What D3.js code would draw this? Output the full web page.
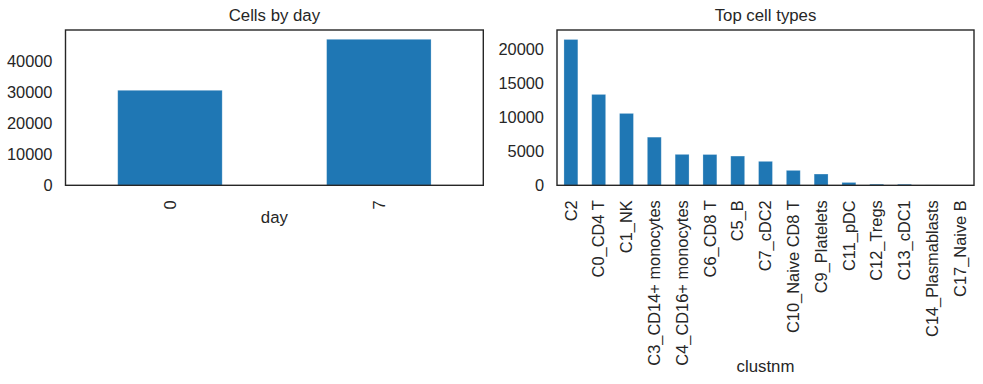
<!DOCTYPE html>
<html>
<head>
<meta charset="utf-8">
<script src="https://cdn.jsdelivr.net/npm/d3@7"></script>
<style>
  html, body { margin: 0; padding: 0; background: #fff; }
  svg { display: block; }
  text { font-family: "Liberation Sans", Arial, sans-serif; fill: #262626; }
</style>
</head>
<body>
<svg id="chart" width="983" height="384"></svg>
<script>
// ---- data ----
const dayCategories = ["0", "7"];
const dayCounts = [30650, 47100];

const cellTypes = ["C2", "C0_CD4 T", "C1_NK", "C3_CD14+ monocytes", "C4_CD16+ monocytes",
  "C6_CD8 T", "C5_B", "C7_cDC2", "C10_Naive CD8 T", "C9_Platelets", "C11_pDC",
  "C12_Tregs", "C13_cDC1", "C14_Plasmablasts", "C17_Naive B"];
const cellCounts = [21500, 13400, 10600, 7100, 4560, 4540, 4310, 3530, 2200, 1660, 420, 170, 160, 50, 15];

const dayTicks = [0, 10000, 20000, 30000, 40000];
const cellTicks = [0, 5000, 10000, 15000, 20000];

const svg = d3.select("#chart");
const barColor = "#1f77b4";
const ink = "#262626";
const tickFont = "16.4px";
const titleFont = "16.8px";

function panel(opts) {
  const { x0, x1, y0, y1, cats, vals, ymax, ticks, title, xlabel, xlabelY } = opts;
  const g = svg.append("g");
  const x = d3.scaleBand().domain(cats).range([x0, x1]).paddingInner(0.5).paddingOuter(0.25);
  const y = d3.scaleLinear().domain([0, ymax]).range([y1, y0]);

  g.selectAll("rect.bar").data(cats).join("rect")
    .attr("class", "bar")
    .attr("x", d => x(d))
    .attr("width", x.bandwidth())
    .attr("y", (d, i) => y(vals[i]))
    .attr("height", (d, i) => y(0) - y(vals[i]))
    .attr("fill", barColor)
    .attr("stroke", "rgba(255,255,255,0.3)")
    .attr("stroke-width", 0.8);

  // y axis
  const ya = g.append("g").attr("transform", `translate(${x0},0)`)
    .call(d3.axisLeft(y).tickValues(ticks).tickSize(0).tickPadding(13).tickFormat(d3.format("d")));
  ya.select(".domain").remove();
  ya.selectAll("text").style("font-size", tickFont).attr("fill", ink)
    .style("font-family", '"Liberation Sans", Arial, sans-serif');

  // x axis
  const xa = g.append("g").attr("transform", `translate(0,${y1})`)
    .call(d3.axisBottom(x).tickSize(0));
  xa.select(".domain").remove();
  xa.selectAll("text")
    .style("font-size", tickFont).attr("fill", ink)
    .style("font-family", '"Liberation Sans", Arial, sans-serif')
    .attr("transform", "rotate(-90)")
    .attr("text-anchor", "end")
    .attr("x", -15)
    .attr("y", 0)
    .attr("dy", "0.35em");

  // spines
  g.append("rect")
    .attr("x", x0).attr("y", y0)
    .attr("width", x1 - x0).attr("height", y1 - y0)
    .attr("fill", "none").attr("stroke", ink).attr("stroke-width", 1.4);

  g.append("text").attr("x", (x0 + x1) / 2).attr("y", 21)
    .attr("text-anchor", "middle").style("font-size", titleFont).text(title);
  g.append("text").attr("x", (x0 + x1) / 2).attr("y", xlabelY)
    .attr("text-anchor", "middle").style("font-size", titleFont).text(xlabel);
}

panel({ x0: 65.5, x1: 483.3, y0: 30, y1: 185.3, cats: dayCategories, vals: dayCounts,
  ymax: 50100, ticks: dayTicks, title: "Cells by day", xlabel: "day", xlabelY: 223 });
panel({ x0: 557, x1: 974, y0: 30, y1: 185.3, cats: cellTypes, vals: cellCounts,
  ymax: 22900, ticks: cellTicks, title: "Top cell types", xlabel: "clustnm", xlabelY: 371.5 });
</script>
</body>
</html>
